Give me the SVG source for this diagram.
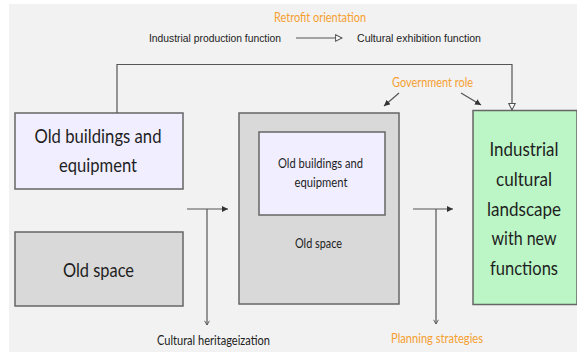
<svg xmlns="http://www.w3.org/2000/svg" width="577" height="352" viewBox="0 0 577 352">
  <defs>
    <marker id="solid" viewBox="0 0 10 10" refX="10" refY="5" markerWidth="6" markerHeight="6" orient="auto" markerUnits="userSpaceOnUse">
      <path d="M0,0 L10,5 L0,10 Z" fill="#333"/>
    </marker>
    <marker id="open" viewBox="0 0 10 10" refX="9" refY="5" markerWidth="8" markerHeight="8" orient="auto" markerUnits="userSpaceOnUse">
      <path d="M1,1 L9,5 L1,9 Z" fill="#fff" stroke="#555" stroke-width="1.3"/>
    </marker>
    <marker id="tick" viewBox="0 0 10 10" refX="9" refY="5" markerWidth="6" markerHeight="6" orient="auto" markerUnits="userSpaceOnUse">
      <path d="M2,1 L9,5 L2,9" fill="none" stroke="#555" stroke-width="1.5"/>
    </marker>
  </defs>
  <style>
    .box { stroke: #666; stroke-width: 1.5; }
    .lav { fill: #f0eeff; }
    .grey { fill: #d9d9d9; }
    .green { fill: #bcf6c6; }
    .lbl { font-family: "Source Sans Pro", Lato, "Noto Sans", sans-serif; fill: #1e1e1e; text-anchor: middle; }
    .note { font-family: "Source Sans Pro", Lato, "Noto Sans", sans-serif; font-size: 12.5px; text-anchor: middle; }
    .orange { fill: #f5a030; }
    .arial { font-family: "Liberation Sans", Arial, sans-serif; font-size: 11px; fill: #222; }
    .line { fill: none; stroke: #555; stroke-width: 1.2; }
  </style>

  <!-- page background -->
  <rect x="0" y="0" width="577" height="352" fill="#ffffff"/>
  <rect x="9" y="4" width="568" height="348" fill="#f2f2f2"/>

  <!-- heading: function change -->
  <g id="retrofit">
    <text class="note orange" x="320" y="22" textLength="92" lengthAdjust="spacingAndGlyphs">Retrofit orientation</text>
    <text class="arial" x="149" y="42" textLength="132" lengthAdjust="spacingAndGlyphs">Industrial production function</text>
    <text class="arial" x="357" y="42" textLength="124" lengthAdjust="spacingAndGlyphs">Cultural exhibition function</text>
  </g>

  <!-- left column -->
  <g id="old-buildings">
    <rect class="box lav" x="15" y="113" width="168" height="76"/>
    <text class="lbl" x="98" y="143" font-size="19" textLength="127" lengthAdjust="spacingAndGlyphs">Old buildings and</text>
    <text class="lbl" x="98" y="172" font-size="19" textLength="78" lengthAdjust="spacingAndGlyphs">equipment</text>
  </g>
  <g id="old-space">
    <rect class="box grey" x="15" y="232" width="168" height="74"/>
    <text class="lbl" x="98.5" y="277" font-size="19" textLength="71" lengthAdjust="spacingAndGlyphs">Old space</text>
  </g>

  <!-- middle: buildings within old space -->
  <g id="combined">
    <rect class="box grey" x="239" y="113" width="160" height="191"/>
    <rect class="box lav" x="259" y="132" width="126" height="83"/>
    <text class="lbl" x="320.5" y="168" font-size="13" textLength="85" lengthAdjust="spacingAndGlyphs">Old buildings and</text>
    <text class="lbl" x="321" y="187" font-size="13" textLength="53" lengthAdjust="spacingAndGlyphs">equipment</text>
    <text class="lbl" x="318.5" y="248" font-size="13" textLength="47" lengthAdjust="spacingAndGlyphs">Old space</text>
  </g>

  <!-- right: result -->
  <g id="landscape">
    <rect class="box green" x="473" y="110.5" width="104" height="194"/>
    <text class="lbl" x="524" y="156" font-size="19" textLength="69" lengthAdjust="spacingAndGlyphs">Industrial</text>
    <text class="lbl" x="524" y="186" font-size="19" textLength="56" lengthAdjust="spacingAndGlyphs">cultural</text>
    <text class="lbl" x="524" y="216" font-size="19" textLength="74" lengthAdjust="spacingAndGlyphs">landscape</text>
    <text class="lbl" x="524" y="245" font-size="19" textLength="65" lengthAdjust="spacingAndGlyphs">with new</text>
    <text class="lbl" x="524" y="275" font-size="19" textLength="68" lengthAdjust="spacingAndGlyphs">functions</text>
  </g>

  <!-- side labels -->
  <g id="government-role">
    <text class="note orange" x="432.5" y="87" textLength="81" lengthAdjust="spacingAndGlyphs">Government role</text>
  </g>
  <g id="heritageization">
    <text class="note" x="213.5" y="345" fill="#222" textLength="113" lengthAdjust="spacingAndGlyphs">Cultural heritageization</text>
  </g>
  <g id="planning">
    <text class="note orange" x="437" y="343" textLength="92" lengthAdjust="spacingAndGlyphs">Planning strategies</text>
  </g>

  <!-- connectors -->
  <g id="connectors">
    <line class="line" x1="296" y1="38" x2="342" y2="38" marker-end="url(#open)"/>
    <polyline class="line" points="117,113 117,64.5 512,64.5 512,110" marker-end="url(#open)"/>
    <line class="line" x1="399" y1="93" x2="384" y2="106" marker-end="url(#solid)"/>
    <line class="line" x1="461" y1="93" x2="481" y2="105" marker-end="url(#solid)"/>
    <line class="line" x1="187" y1="209" x2="228" y2="209" marker-end="url(#solid)"/>
    <line class="line" x1="207" y1="209" x2="207" y2="325" marker-end="url(#tick)"/>
    <line class="line" x1="413" y1="209" x2="453" y2="209" marker-end="url(#solid)"/>
    <line class="line" x1="436" y1="209" x2="436" y2="324" marker-end="url(#tick)"/>
  </g>
</svg>
